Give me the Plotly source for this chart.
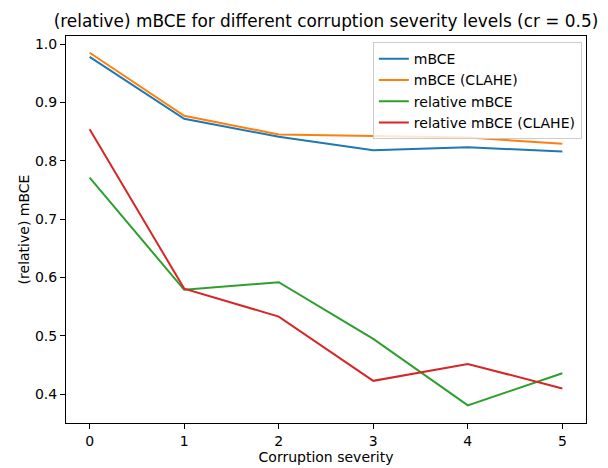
import plotly.graph_objects as go

severity = [0, 1, 2, 3, 4, 5]
mbce = [0.978, 0.872, 0.841, 0.818, 0.823, 0.816]
mbce_clahe = [0.985, 0.877, 0.845, 0.843, 0.840, 0.829]
rel_mbce = [0.771, 0.579, 0.592, 0.495, 0.381, 0.436]
rel_mbce_clahe = [0.854, 0.581, 0.533, 0.423, 0.452, 0.410]

series = [
    ("mBCE", mbce, "#1f77b4"),
    ("mBCE (CLAHE)", mbce_clahe, "#ff7f0e"),
    ("relative mBCE", rel_mbce, "#2ca02c"),
    ("relative mBCE (CLAHE)", rel_mbce_clahe, "#d62728"),
]

fig = go.Figure()
for name, vals, color in series:
    fig.add_trace(go.Scatter(x=severity, y=vals, mode="lines", name=name,
                             line=dict(color=color, width=2)))

font = "DejaVu Sans, sans-serif"
axis_common = dict(showgrid=False, zeroline=False, showline=True, linecolor="black",
                   linewidth=1, mirror=True, ticks="outside", ticklen=5, tickwidth=1,
                   tickcolor="black", tickfont=dict(family=font, size=14, color="black"))

W, H = 600, 460
fig.update_layout(
    width=W, height=H,
    margin=dict(l=58, r=22, t=28, b=45, autoexpand=False),
    plot_bgcolor="white", paper_bgcolor="white",
    font=dict(family=font, size=14, color="black"),
    title=dict(text="(relative) mBCE for different corruption severity levels (cr = 0.5)",
               x=0.5, xref="paper", y=1 - 13 / H, yref="container",
               xanchor="center", yanchor="middle",
               font=dict(family=font, size=16.9, color="black")),
    xaxis=dict(range=[-0.25, 5.25], tickvals=severity, ticktext=[str(s) for s in severity],
               title=dict(text="Corruption severity", standoff=4,
                          font=dict(family=font, size=14, color="black")),
               **axis_common),
    yaxis=dict(range=[0.3508, 1.0137], tickvals=[0.4, 0.5, 0.6, 0.7, 0.8, 0.9, 1.0],
               ticktext=["0.4", "0.5", "0.6", "0.7", "0.8", "0.9", "1.0"],
               title=dict(text="(relative) mBCE", standoff=2,
                          font=dict(family=font, size=14, color="black")),
               **axis_common),
    legend=dict(x=0.992, y=0.984, xanchor="right", yanchor="top",
                bordercolor="#cccccc", borderwidth=1, bgcolor="rgba(255,255,255,0.8)",
                font=dict(family=font, size=14, color="black"),
                tracegroupgap=0),
    showlegend=True,
)

fig.write_html("out.html")
